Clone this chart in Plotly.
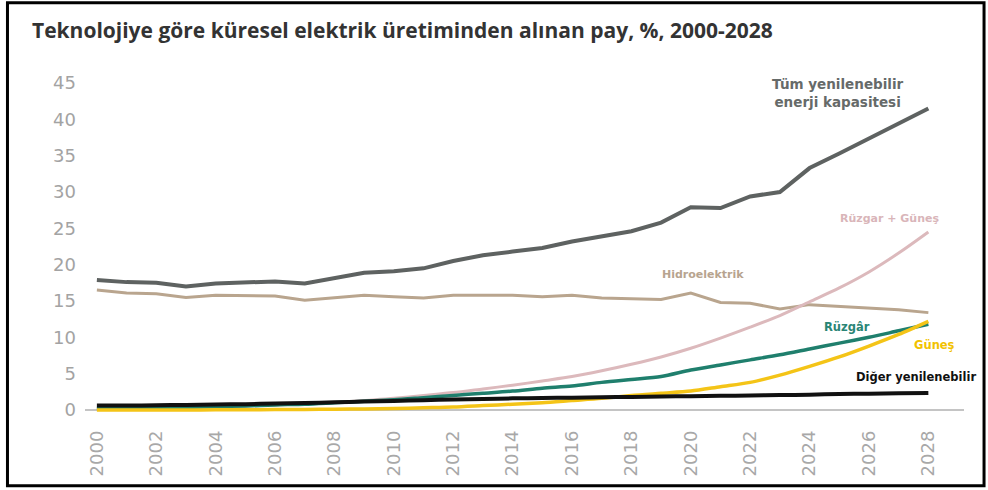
import plotly.graph_objects as go

# Years covered by the series
years = list(range(2000, 2029))

# Share of global electricity generation, %
total_renewables = [17.9, 17.6, 17.5, 17.0, 17.4, 17.6, 17.7, 17.4, 18.2, 18.9,
                    19.1, 19.5, 20.5, 21.3, 21.8, 22.3, 23.2, 23.9, 24.6, 25.8,
                    27.9, 27.8, 29.4, 30.0, 33.3, 35.3, 37.4, 39.4, 41.5]
hydro = [16.5, 16.1, 16.0, 15.5, 15.8, 15.8, 15.7, 15.1, 15.5, 15.8,
         15.6, 15.4, 15.8, 15.8, 15.8, 15.6, 15.8, 15.4, 15.3, 15.2,
         16.1, 14.8, 14.7, 13.9, 14.5, 14.3, 14.0, 13.8, 13.4]
wind_solar = [0.2, 0.25, 0.3, 0.35, 0.45, 0.55, 0.7, 0.85, 1.0, 1.3,
              1.6, 2.0, 2.4, 2.9, 3.4, 4.0, 4.6, 5.4, 6.3, 7.3,
              8.5, 9.9, 11.4, 13.0, 14.9, 16.8, 19.0, 21.6, 24.5]
wind = [0.2, 0.25, 0.3, 0.35, 0.45, 0.55, 0.7, 0.8, 1.0, 1.2,
        1.4, 1.7, 2.0, 2.3, 2.6, 3.0, 3.3, 3.8, 4.2, 4.6,
        5.5, 6.2, 6.9, 7.6, 8.4, 9.2, 10.0, 10.9, 11.8]
solar = [0.0, 0.0, 0.0, 0.0, 0.02, 0.03, 0.05, 0.07, 0.1, 0.15,
         0.2, 0.3, 0.4, 0.6, 0.8, 1.0, 1.3, 1.6, 2.0, 2.3,
         2.6, 3.2, 3.8, 4.8, 6.0, 7.3, 8.8, 10.4, 12.2]
other = [0.6, 0.6, 0.65, 0.7, 0.75, 0.8, 0.9, 0.95, 1.05, 1.15,
         1.25, 1.35, 1.45, 1.5, 1.6, 1.65, 1.7, 1.75, 1.8, 1.85,
         1.9, 1.95, 2.0, 2.05, 2.1, 2.2, 2.25, 2.3, 2.35]

x_ticks = list(range(2000, 2029, 2))
y_ticks = list(range(0, 50, 5))

title_text = "Teknolojiye göre küresel elektrik üretiminden alınan pay, %, 2000-2028"

fig = go.Figure()

def add_line(values, color, width, shape="linear"):
    fig.add_trace(go.Scatter(
        x=years, y=values, mode="lines",
        line=dict(color=color, width=width, shape=shape, smoothing=0.8),
        hoverinfo="x+y", showlegend=False,
    ))

add_line(hydro, "#b9a58e", 3)
add_line(wind_solar, "#dcb9bc", 3, "spline")
add_line(total_renewables, "#5e6261", 4)
add_line(wind, "#1f7f6d", 3.5, "spline")
add_line(solar, "#f4c417", 3.5, "spline")
add_line(other, "#111111", 4, "spline")

label_font = "DejaVu Sans"
labels = [
    ("Tüm yenilenebilir<br>enerji kapasitesi", 2024.95, 43.6, "#666a69", 13.5),
    ("Rüzgar + Güneş", 2026.7, 26.4, "#d9b5b9", 11),
    ("Hidroelektrik", 2020.4, 18.6, "#b7a48f", 11),
    ("Rüzgâr", 2025.25, 11.4, "#2a8575", 11.5),
    ("Güneş", 2028.2, 8.9, "#f2c200", 11.5),
    ("Diğer yenilenebilir", 2027.6, 4.5, "#111111", 11.5),
]
for text, xv, yv, color, size in labels:
    fig.add_annotation(
        x=xv, y=yv, text="<b>" + text + "</b>", showarrow=False,
        xanchor="center", yanchor="middle", align="center",
        font=dict(family=label_font, size=size, color=color),
    )

# Title
fig.add_annotation(
    xref="paper", yref="paper", x=-0.0626, y=1.114,
    text="<b>" + title_text + "</b>", showarrow=False,
    xanchor="left", yanchor="middle",
    font=dict(family="Open Sans", size=21, color="#333333"),
)

# Outer frame
fig.add_shape(
    type="rect", xref="paper", yref="paper",
    x0=-0.0882, x1=1.0228, y0=-0.188, y1=1.192,
    line=dict(color="#000000", width=3), fillcolor="rgba(0,0,0,0)",
)

fig.update_layout(
    width=988, height=490,
    margin=dict(l=85, r=24, t=70, b=70),
    paper_bgcolor="white", plot_bgcolor="white",
    xaxis=dict(
        range=[1999.6, 2029.2], tickvals=x_ticks,
        ticktext=[str(v) for v in x_ticks], tickangle=-90,
        showgrid=False, zeroline=False, showline=False, ticks="",
        ticklabelstandoff=6,
        tickfont=dict(family="DejaVu Sans", size=18, color="#a8a8a8"),
    ),
    yaxis=dict(
        range=[-1.38, 46.8], tickvals=y_ticks,
        showgrid=False, zeroline=True, zerolinecolor="#c4c4c4", zerolinewidth=1.5,
        showline=False, ticks="",
        ticklabelstandoff=8,
        tickfont=dict(family="DejaVu Sans", size=18, color="#a3a3a3"),
    ),
)

fig.write_html("out.html")
